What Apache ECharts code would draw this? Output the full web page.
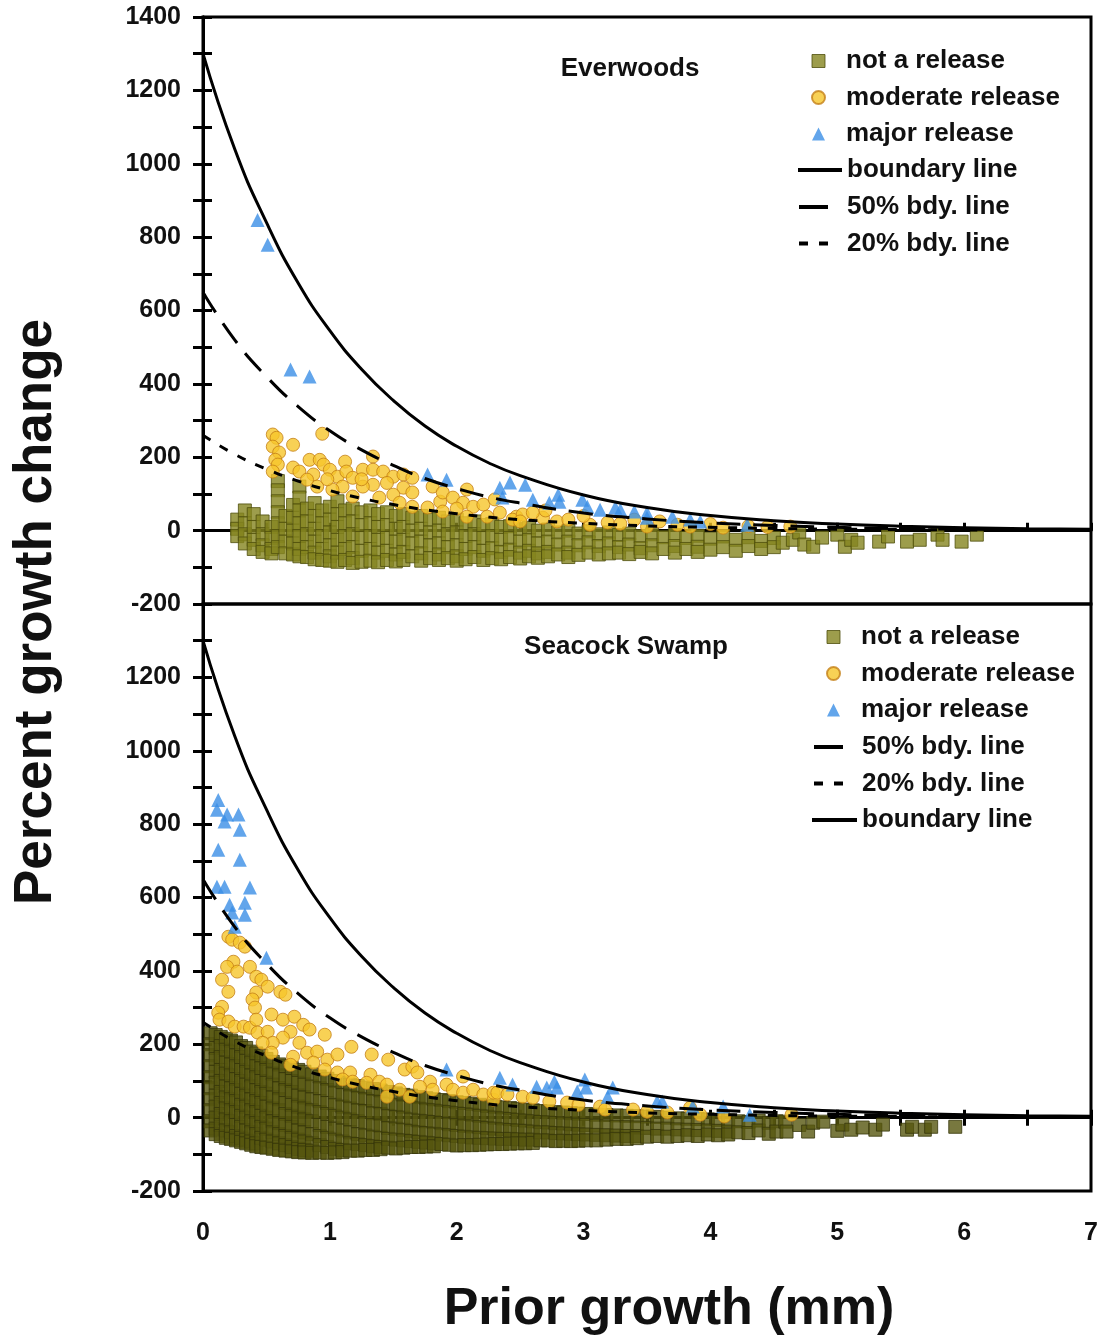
<!DOCTYPE html>
<html>
<head>
<meta charset="utf-8">
<script src="https://cdn.jsdelivr.net/npm/echarts@6/dist/echarts.min.js"></script>
<style>
  html, body { margin: 0; padding: 0; background: #fff; }
  #chart { width: 1102px; height: 1342px; }
</style>
</head>
<body>
<div id="chart"></div>
<script>
// boundary curves, read at fixed x positions
const curveX = [0, 0.25, 0.5, 0.75, 1, 1.25, 1.5, 1.75, 2, 2.25, 2.5, 3, 3.5, 4, 4.5, 5, 5.5, 6, 6.5, 7]
const boundaryY = [1300, 1040, 840, 675, 545, 440, 355, 285, 230, 185, 150, 97, 63, 41, 27, 18, 12, 8, 5, 4]
const half = [650, 520, 420, 338, 272, 220, 178, 142, 115, 92, 75, 48, 32, 21, 14, 9, 6, 4, 3, 2]
const fifth = [260, 208, 168, 135, 109, 88, 71, 57, 46, 37, 30, 20, 13, 9, 6, 4, 3, 2, 1, 1]

// Everwoods
// squares as columns: [prior growth, [percent changes]]
const everwoodsNot = [
  [0.27, [30, 5, -15]], [0.33, [55, 20, -10, -35]], [0.40, [45, 10, -25, -50]],
  [0.47, [25, -10, -40, -58]], [0.54, [10, -20, -50, -62]], [0.59, [135, 110, 80, 50, 20, -15, -45]],
  [0.65, [40, 5, -30, -62]], [0.71, [70, 35, 0, -35, -65]], [0.76, [120, 90, 55, 20, -15, -50, -70]],
  [0.82, [60, 25, -10, -45, -72]], [0.88, [75, 40, 5, -30, -60, -78]], [0.94, [55, 20, -15, -50, -80]],
  [1.00, [65, 30, -5, -40, -70, -82]], [1.06, [80, 45, 10, -25, -60, -85]], [1.12, [55, 20, -15, -50, -80]],
  [1.18, [60, 25, -10, -45, -75, -88]], [1.25, [50, 15, -20, -55, -85]], [1.32, [55, 20, -15, -50, -82]],
  [1.38, [45, 10, -25, -60, -86]], [1.45, [50, 15, -20, -55, -80]], [1.52, [40, 5, -30, -65, -84]],
  [1.58, [45, 10, -25, -58, -80]], [1.65, [35, 0, -35, -70]], [1.72, [40, 5, -30, -62, -82]],
  [1.79, [30, -5, -40, -75]], [1.86, [35, 0, -35, -65, -80]], [1.93, [25, -10, -45, -75]],
  [2.00, [30, -5, -40, -70, -82]], [2.07, [20, -15, -50, -78]], [2.14, [25, -10, -45, -72]],
  [2.21, [15, -20, -55, -80]], [2.28, [18, -15, -48, -75]], [2.35, [10, -25, -58, -78]],
  [2.42, [12, -20, -52, -72]], [2.50, [5, -30, -60, -76]], [2.57, [8, -25, -55, -70]],
  [2.64, [0, -35, -62, -74]], [2.72, [3, -30, -58, -70]], [2.80, [-5, -38, -65]],
  [2.88, [0, -30, -60, -72]], [2.96, [-8, -40, -66]], [3.04, [-2, -32, -60]],
  [3.12, [-10, -42, -65]], [3.20, [-5, -35, -62]], [3.28, [-12, -45, -60]],
  [3.36, [-8, -38, -64]], [3.45, [-15, -48, -58]], [3.54, [-10, -40, -62]],
  [3.63, [-18, -50]], [3.72, [-12, -42, -60]], [3.81, [-20, -50]], [3.90, [-14, -44, -58]],
  [4.00, [-22, -52]], [4.10, [-16, -45]], [4.20, [-25, -55]], [4.30, [-18, -42]],
  [4.40, [-28, -50]], [4.50, [-20, -45]], [4.57, [-33]], [4.65, [-25]], [4.70, [-5]],
  [4.74, [-38]], [4.81, [-44]], [4.88, [-19]], [5.00, [-11]], [5.06, [-44]], [5.11, [-25]],
  [5.16, [-33]], [5.33, [-30]], [5.40, [-16]], [5.55, [-30]], [5.65, [-25]], [5.79, [-11]],
  [5.83, [-25]], [5.98, [-30]], [6.10, [-11]]
]
const everwoodsModerate = [
  [0.55, 262], [0.58, 253], [0.55, 229], [0.60, 213], [0.57, 193], [0.59, 180], [0.55, 161],
  [0.71, 234], [0.94, 264], [0.84, 193], [0.92, 193], [0.95, 180], [0.71, 172], [0.76, 161],
  [0.87, 153], [1.00, 166], [1.06, 147], [1.12, 188], [1.13, 161], [1.18, 144], [1.26, 166],
  [1.34, 202], [1.34, 166], [1.42, 161], [1.34, 125], [1.26, 120], [1.10, 120], [1.02, 112],
  [0.90, 120], [0.82, 139], [1.50, 147], [1.58, 153], [1.65, 144], [1.58, 117], [1.50, 98],
  [1.39, 90], [1.18, 93], [1.55, 76], [1.65, 104], [1.81, 120], [1.87, 79], [1.89, 104],
  [1.97, 90], [2.08, 112], [2.05, 76], [2.13, 65], [2.21, 71], [2.08, 38], [1.89, 52],
  [1.77, 63], [2.24, 38], [2.34, 49], [2.47, 38], [2.44, 30], [1.65, 65], [2.52, 44],
  [2.68, 35], [2.79, 25], [2.88, 30], [3.05, 16], [3.19, 22], [3.29, 19], [3.50, 11],
  [3.74, 16], [3.84, 11], [4.10, 8], [4.63, 11], [2.50, 25], [2.60, 49], [1.25, 140],
  [1.45, 130], [0.98, 140], [2.30, 85], [2.00, 60], [2.70, 55], [3.00, 40], [3.40, 30],
  [3.60, 25], [4.00, 18], [4.30, 12], [4.45, 10]
]
const everwoodsMajor = [
  [0.43, 847], [0.51, 779], [0.69, 439], [0.84, 420], [1.77, 153], [1.92, 139], [2.34, 117],
  [2.42, 131], [2.54, 125], [2.36, 90], [2.80, 98], [2.81, 79], [2.60, 84], [2.73, 76],
  [2.99, 84], [3.03, 65], [3.13, 57], [3.25, 63], [3.29, 57], [3.40, 52], [3.50, 49],
  [3.50, 35], [3.70, 38], [3.84, 30], [3.92, 25], [4.29, 16]
]

// Seacock Swamp
const swampNot = [
  [0.06, [230, 200, 170, 140, 110, 80, 50, 20, -10, -35]],
  [0.10, [225, 190, 160, 125, 95, 60, 30, 0, -30, -45]],
  [0.14, [220, 195, 165, 130, 100, 70, 40, 10, -20, -50]],
  [0.18, [215, 185, 150, 120, 85, 55, 25, -5, -35, -55]],
  [0.22, [210, 180, 145, 115, 80, 50, 20, -10, -40, -58]],
  [0.26, [205, 170, 140, 105, 75, 45, 15, -20, -50, -62]],
  [0.30, [195, 165, 130, 100, 65, 35, 5, -25, -55, -66]],
  [0.34, [190, 155, 125, 90, 60, 30, 0, -35, -60, -70]],
  [0.38, [180, 150, 115, 85, 50, 20, -10, -40, -65, -74]],
  [0.42, [175, 140, 110, 75, 45, 15, -15, -45, -70, -78]],
  [0.46, [168, 135, 100, 70, 40, 5, -25, -55, -80]],
  [0.50, [160, 130, 95, 65, 30, 0, -30, -60, -82]],
  [0.55, [152, 120, 90, 55, 25, -10, -40, -65, -85]],
  [0.60, [145, 115, 80, 50, 20, -15, -45, -70, -88]],
  [0.65, [140, 105, 75, 40, 10, -20, -50, -75, -90]],
  [0.70, [135, 100, 70, 35, 5, -25, -55, -80, -92]],
  [0.75, [130, 95, 60, 30, 0, -35, -60, -85, -94]],
  [0.80, [125, 90, 55, 25, -5, -40, -65, -88, -95]],
  [0.86, [118, 85, 50, 20, -10, -45, -70, -90, -96]],
  [0.92, [112, 80, 45, 15, -20, -50, -75, -95]],
  [0.98, [106, 75, 40, 10, -25, -55, -80, -96]],
  [1.04, [100, 68, 35, 5, -30, -60, -85, -95]],
  [1.10, [96, 62, 30, 0, -35, -65, -88, -94]],
  [1.16, [90, 58, 25, -5, -40, -70, -90]],
  [1.22, [86, 54, 20, -10, -45, -72, -90]],
  [1.28, [82, 50, 18, -15, -48, -75, -88]],
  [1.34, [78, 45, 12, -20, -52, -78, -88]],
  [1.40, [74, 42, 10, -22, -55, -80, -86]],
  [1.46, [70, 38, 5, -28, -58, -82]],
  [1.52, [66, 35, 2, -30, -60, -84]],
  [1.58, [62, 30, 0, -33, -62, -82]],
  [1.64, [60, 28, -5, -36, -64, -80]],
  [1.70, [56, 25, -8, -40, -66, -80]],
  [1.76, [53, 22, -10, -42, -68, -79]],
  [1.82, [50, 20, -12, -44, -70, -78]],
  [1.88, [48, 17, -15, -46, -72]],
  [1.94, [45, 15, -18, -48, -74]],
  [2.00, [42, 12, -20, -50, -76]],
  [2.06, [40, 10, -22, -52, -75]],
  [2.12, [38, 8, -24, -54, -75]],
  [2.18, [35, 5, -26, -55, -74]],
  [2.24, [32, 3, -28, -56, -73]],
  [2.30, [30, 0, -30, -57, -72]],
  [2.36, [28, -2, -32, -58, -72]],
  [2.42, [26, -4, -34, -58, -71]],
  [2.48, [24, -6, -35, -59, -70]],
  [2.54, [22, -8, -36, -60, -70]],
  [2.60, [20, -10, -38, -60, -69]],
  [2.66, [18, -12, -40, -62]], [2.72, [17, -13, -40, -62]], [2.78, [15, -15, -42, -64]],
  [2.84, [14, -16, -43, -63]], [2.90, [12, -18, -44, -64]], [2.96, [11, -19, -45, -63]],
  [3.02, [10, -20, -46, -62]], [3.10, [8, -22, -47, -62]], [3.18, [7, -24, -48, -60]],
  [3.26, [6, -25, -49, -58]], [3.34, [5, -26, -50, -58]], [3.42, [4, -27, -50, -56]],
  [3.50, [3, -28, -52]], [3.58, [2, -30, -50]], [3.66, [0, -30, -52]], [3.74, [-2, -32, -50]],
  [3.82, [-3, -33, -48]], [3.90, [-4, -34, -50]], [3.98, [-5, -35, -46]], [4.06, [-6, -36, -48]],
  [4.14, [-8, -38, -46]], [4.22, [-10, -40]], [4.30, [-12, -42]], [4.38, [-8, -35]],
  [4.46, [-14, -44]], [4.52, [-10, -38]], [4.59, [-11]], [4.60, [-38]], [4.70, [-20]],
  [4.77, [-38]], [4.81, [-14]], [4.89, [-11]], [5.00, [-36]], [5.04, [-19]], [5.11, [-33]],
  [5.20, [-27]], [5.30, [-33]], [5.36, [-19]], [5.55, [-33]], [5.59, [-25]], [5.69, [-33]],
  [5.74, [-25]], [5.93, [-25]]
]
const swampModerate = [
  [0.20, 493], [0.23, 485], [0.29, 477], [0.33, 466], [0.24, 425], [0.19, 411], [0.27, 398],
  [0.37, 411], [0.42, 384], [0.46, 376], [0.15, 376], [0.20, 343], [0.51, 357], [0.61, 343],
  [0.65, 335], [0.42, 341], [0.39, 322], [0.41, 300], [0.15, 302], [0.12, 286], [0.13, 267],
  [0.20, 262], [0.25, 248], [0.32, 248], [0.37, 245], [0.42, 267], [0.43, 232], [0.51, 234],
  [0.54, 281], [0.63, 267], [0.69, 234], [0.72, 275], [0.79, 253], [0.84, 240], [0.96, 226],
  [0.76, 204], [0.63, 218], [0.55, 204], [0.47, 204], [0.54, 177], [0.71, 166], [0.82, 177],
  [0.90, 180], [0.69, 144], [0.87, 150], [0.98, 158], [1.06, 172], [1.17, 193], [1.33, 172],
  [1.46, 158], [0.96, 131], [1.06, 123], [1.16, 123], [1.10, 104], [1.18, 98], [1.32, 117],
  [1.29, 95], [1.39, 98], [1.45, 90], [1.55, 76], [1.59, 131], [1.65, 139], [1.69, 123],
  [1.79, 98], [1.71, 84], [1.81, 76], [1.92, 90], [1.97, 76], [2.05, 112], [2.05, 68],
  [2.13, 76], [2.21, 63], [2.29, 49], [2.29, 68], [1.63, 57], [1.45, 57], [2.32, 68],
  [2.40, 63], [2.52, 57], [2.60, 54], [2.73, 44], [2.87, 41], [2.96, 35], [3.13, 30],
  [3.17, 22], [3.39, 22], [3.50, 16], [3.66, 14], [3.84, 27], [3.92, 8], [4.11, 3], [4.64, 8]
]
const swampMajor = [
  [0.12, 866], [0.11, 839], [0.19, 826], [0.17, 807], [0.28, 826], [0.29, 785], [0.12, 730],
  [0.29, 703], [0.11, 629], [0.17, 629], [0.37, 627], [0.21, 580], [0.33, 586], [0.23, 559],
  [0.33, 553], [0.25, 520], [0.50, 436], [1.92, 131], [2.34, 109], [2.44, 90], [2.63, 84],
  [2.71, 82], [2.77, 98], [2.79, 82], [2.95, 71], [3.01, 104], [3.02, 82], [3.19, 57],
  [3.23, 82], [3.58, 44], [3.62, 44], [3.86, 30], [4.10, 30], [4.31, 8]
]

const FONT = 'Liberation Sans, Arial, Helvetica, sans-serif'
const NOT = 'not a release'
const MOD = 'moderate release'
const MAJ = 'major release'
const BDY = 'boundary line'
const B50 = '50% bdy. line'
const B20 = '20% bdy. line'

function flattenCols (cols) {
  return cols.flatMap(([x, ys]) => ys.map(y => [x, y]))
}
function curve (ys) {
  return curveX.map((x, i) => [x, ys[i]])
}

const squareStyle = { color: '#84841f', borderColor: '#4f4f0c', borderWidth: 1 }
// the swamp cloud is heavily overplotted in the original, so it reads darker
const squareDense = { color: '#56560f', borderColor: '#36360a', borderWidth: 1 }
const circleStyle = { color: '#f6c52a', borderColor: '#c47f16', borderWidth: 1 }
const triStyle = { color: '#3b8ee6', borderColor: '#3b8ee6', borderWidth: 0 }

function panelSeries (g, notData, modData, majData, sqStyle) {
  const axes = { xAxisIndex: g, yAxisIndex: g * 2 }
  return [
    { name: NOT, type: 'scatter', ...axes, symbol: 'rect', symbolSize: 13, itemStyle: sqStyle, data: notData, z: 2 },
    { name: MOD, type: 'scatter', ...axes, symbol: 'circle', symbolSize: 13, itemStyle: circleStyle, data: modData, z: 3 },
    { name: MAJ, type: 'scatter', ...axes, symbol: 'triangle', symbolSize: 14, itemStyle: triStyle, data: majData, z: 4 },
    { name: BDY, type: 'line', ...axes, smooth: true, symbol: 'none', itemStyle: { color: '#000' }, lineStyle: { color: '#000', width: 3 }, data: curve(boundaryY), z: 5 },
    { name: B50, type: 'line', ...axes, smooth: true, symbol: 'none', itemStyle: { color: '#000' }, lineStyle: { color: '#000', width: 3, type: [24, 13] }, data: curve(half), z: 5 },
    { name: B20, type: 'line', ...axes, smooth: true, symbol: 'none', itemStyle: { color: '#000' }, lineStyle: { color: '#000', width: 3, type: [9, 11] }, data: curve(fifth), z: 5 }
  ]
}

const legendText = { fontFamily: FONT, fontWeight: 'bold', fontSize: 26, color: '#111', lineHeight: 26 }
// scatter keys: small icon, text pushed right with padding
function markerLegend (left, top) {
  return {
    orient: 'vertical', left: left, top: top, padding: 0,
    itemWidth: 13, itemHeight: 13, itemGap: 10.5, selectedMode: false,
    textStyle: { ...legendText, padding: [0, 0, 0, 16] },
    data: [
      { name: NOT, icon: 'rect', itemStyle: squareStyle },
      { name: MOD, icon: 'circle' },
      { name: MAJ, icon: 'triangle' }
    ]
  }
}
function lineLegend (names, left, top, width, lineTypes) {
  return {
    orient: 'vertical', left: left, top: top, padding: 0,
    itemWidth: width, itemHeight: 12, itemGap: 10.5, selectedMode: false,
    textStyle: legendText,
    data: names.map((n, i) => ({ name: n, itemStyle: { opacity: 0 }, lineStyle: { width: 4, color: '#000', type: lineTypes[i] } }))
  }
}

const tickStyle = { color: '#000', width: 3 }
const axisLine = { lineStyle: { color: '#000', width: 3 } }
const tickFont = { fontFamily: FONT, fontWeight: 'bold', fontSize: 25, color: '#111' }

function xAxes (g, labels) {
  const base = { gridIndex: g, type: 'value', min: 0, max: 7, interval: 0.5, position: 'bottom', axisLine: axisLine, splitLine: { show: false } }
  const out = [{ ...base, axisTick: { inside: true, length: 8, lineStyle: tickStyle }, axisLabel: { show: false } }]
  if (labels) {
    out[0].axisLabel = { show: true, margin: 30, ...tickFont, showMinLabel: true, showMaxLabel: true, formatter: v => (v % 1 === 0 ? String(v) : '') }
    out.push({ ...base, axisTick: { inside: false, length: 8, lineStyle: tickStyle }, axisLabel: { show: false } })
  }
  return out
}
function yAxes (g, hideTop) {
  const base = { gridIndex: g, type: 'value', min: -200, max: 1400, interval: 100, position: 'left', axisLine: axisLine, splitLine: { show: false } }
  return [
    { ...base, axisTick: { inside: false, length: 10, lineStyle: tickStyle },
      axisLabel: { margin: 22, ...tickFont, formatter: v => (v % 200 === 0 && !(hideTop && v === 1400) ? String(v) : '') } },
    { ...base, axisTick: { inside: true, length: 9, lineStyle: tickStyle }, axisLabel: { show: false } }
  ]
}

const xAxisList = xAxes(0, false).concat(xAxes(1, true))
const yAxisList = yAxes(0, false).concat(yAxes(1, true))

const chart = echarts.init(document.getElementById('chart'))
chart.setOption({
  backgroundColor: '#fff',
  animation: false,
  grid: [
    { left: 203, right: 11, top: 17, height: 587, show: true, borderColor: '#000', borderWidth: 3 },
    { left: 203, right: 11, top: 604, height: 587, show: true, borderColor: '#000', borderWidth: 3 }
  ],
  xAxis: xAxisList,
  yAxis: yAxisList,
  legend: [
    markerLegend(811, 48),
    lineLegend([BDY], 796, 157, 44, ['solid']),
    lineLegend([B50, B20], 797, 194, 43, [[29, 60], [9, 11, 9, 60]]),
    markerLegend(826, 624),
    lineLegend([B50, B20], 812, 734, 43, [[29, 60], [9, 11, 9, 60]]),
    lineLegend([BDY], 810, 807, 45, ['solid'])
  ],
  graphic: [
    { type: 'text', x: 630, y: 69, style: { text: 'Everwoods', font: 'bold 26px ' + FONT, fill: '#111', textAlign: 'center', textVerticalAlign: 'middle' } },
    { type: 'text', x: 626, y: 647, style: { text: 'Seacock Swamp', font: 'bold 26px ' + FONT, fill: '#111', textAlign: 'center', textVerticalAlign: 'middle' } },
    { type: 'text', x: 36, y: 612, rotation: Math.PI / 2, style: { text: 'Percent growth change', font: 'bold 53px ' + FONT, fill: '#111', textAlign: 'center', textVerticalAlign: 'middle' } },
    { type: 'text', x: 669, y: 1310, style: { text: 'Prior growth (mm)', font: 'bold 52px ' + FONT, fill: '#111', textAlign: 'center', textVerticalAlign: 'middle' } }
  ],
  series: panelSeries(0, flattenCols(everwoodsNot), everwoodsModerate, everwoodsMajor, squareStyle)
    .concat(panelSeries(1, flattenCols(swampNot), swampModerate, swampMajor, squareDense))
})
</script>
</body>
</html>
